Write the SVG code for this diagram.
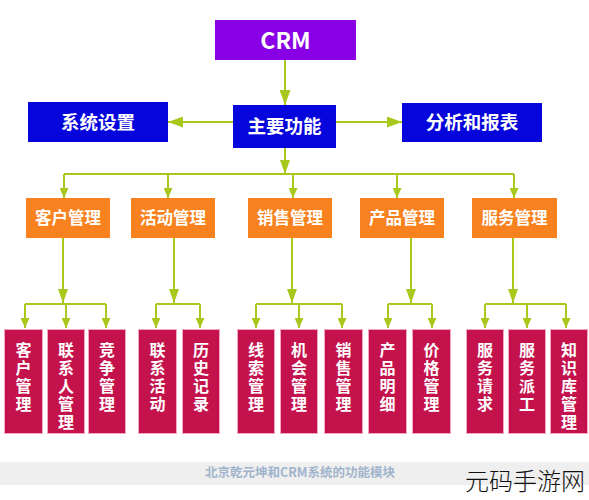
<svg xmlns="http://www.w3.org/2000/svg" width="589" height="500" viewBox="0 0 589 500">
<style>
text{font-family:"Noto Sans CJK SC","Liberation Sans",sans-serif;}
.lbl{fill:#fff;font-weight:bold;text-anchor:middle;}
.top{fill:#8a00e6;}
.blue{fill:#0505dc;}
.org{fill:#f7821f;}
.pink{fill:#c4124c;stroke:#f3a6c4;stroke-width:1;}
.ln{stroke:#a9c81c;stroke-width:2;fill:none;}
.vt{fill:#fff;font-weight:bold;font-size:16px;writing-mode:vertical-rl;letter-spacing:2px;}
</style>
<defs>
<marker id="ab" markerUnits="userSpaceOnUse" markerWidth="15" markerHeight="11" refX="15" refY="5.5" orient="auto"><path d="M0,0 L15,5.5 L0,11 z" fill="#a9c81c"/></marker>
<marker id="am" markerUnits="userSpaceOnUse" markerWidth="14" markerHeight="10" refX="14" refY="5" orient="auto"><path d="M0,0 L14,5 L0,10 z" fill="#a9c81c"/></marker>
<marker id="as" markerUnits="userSpaceOnUse" markerWidth="10" markerHeight="9" refX="10" refY="4.5" orient="auto"><path d="M0,0 L10,4.5 L0,9 z" fill="#a9c81c"/></marker>
</defs>
<rect x="0" y="462" width="589" height="23" fill="#efefef"/>
<g id="connectors">
<line class="ln" x1="285" y1="60" x2="285" y2="105" marker-end="url(#ab)"/>
<line class="ln" x1="233" y1="122" x2="168" y2="122" marker-end="url(#ab)"/>
<line class="ln" x1="336" y1="122" x2="402" y2="122" marker-end="url(#ab)"/>
<line class="ln" x1="285" y1="148" x2="285" y2="174" marker-end="url(#am)"/>
<line class="ln" x1="64" y1="174" x2="514" y2="174"/>
<line class="ln" x1="64" y1="174" x2="64" y2="198" marker-end="url(#as)"/>
<line class="ln" x1="168" y1="174" x2="168" y2="198" marker-end="url(#as)"/>
<line class="ln" x1="293" y1="174" x2="293" y2="198" marker-end="url(#as)"/>
<line class="ln" x1="397" y1="174" x2="397" y2="198" marker-end="url(#as)"/>
<line class="ln" x1="514" y1="174" x2="514" y2="198" marker-end="url(#as)"/>
<line class="ln" x1="63" y1="238" x2="63" y2="303" marker-end="url(#am)"/>
<line class="ln" x1="174" y1="238" x2="174" y2="303" marker-end="url(#am)"/>
<line class="ln" x1="292" y1="238" x2="292" y2="303" marker-end="url(#am)"/>
<line class="ln" x1="411" y1="238" x2="411" y2="303" marker-end="url(#am)"/>
<line class="ln" x1="513" y1="238" x2="513" y2="303" marker-end="url(#am)"/>
<line class="ln" x1="25" y1="304" x2="106" y2="304"/>
<line class="ln" x1="156" y1="304" x2="200" y2="304"/>
<line class="ln" x1="256" y1="304" x2="342" y2="304"/>
<line class="ln" x1="388" y1="304" x2="432" y2="304"/>
<line class="ln" x1="485" y1="304" x2="566" y2="304"/>
<line class="ln" x1="25" y1="304" x2="25" y2="328" marker-end="url(#as)"/>
<line class="ln" x1="66" y1="304" x2="66" y2="328" marker-end="url(#as)"/>
<line class="ln" x1="106" y1="304" x2="106" y2="328" marker-end="url(#as)"/>
<line class="ln" x1="156" y1="304" x2="156" y2="328" marker-end="url(#as)"/>
<line class="ln" x1="200" y1="304" x2="200" y2="328" marker-end="url(#as)"/>
<line class="ln" x1="256" y1="304" x2="256" y2="328" marker-end="url(#as)"/>
<line class="ln" x1="299" y1="304" x2="299" y2="328" marker-end="url(#as)"/>
<line class="ln" x1="342" y1="304" x2="342" y2="328" marker-end="url(#as)"/>
<line class="ln" x1="388" y1="304" x2="388" y2="328" marker-end="url(#as)"/>
<line class="ln" x1="432" y1="304" x2="432" y2="328" marker-end="url(#as)"/>
<line class="ln" x1="485" y1="304" x2="485" y2="328" marker-end="url(#as)"/>
<line class="ln" x1="527" y1="304" x2="527" y2="328" marker-end="url(#as)"/>
<line class="ln" x1="566" y1="304" x2="566" y2="328" marker-end="url(#as)"/>
</g>
<g id="crm"><rect class="top" x="215" y="20" width="141" height="40"/><text class="lbl" x="285.5" y="49" font-size="23">CRM</text></g>
<g id="main"><rect class="blue" x="233" y="105" width="103" height="43"/><text class="lbl" x="284.5" y="133" font-size="18.5">主要功能</text></g>
<g id="sys"><rect class="blue" x="28" y="102" width="140" height="40"/><text class="lbl" x="98" y="129" font-size="18.5">系统设置</text></g>
<g id="report"><rect class="blue" x="402" y="103" width="140" height="39"/><text class="lbl" x="472" y="129" font-size="18.5">分析和报表</text></g>
<g id="o1"><rect class="org" x="26" y="198" width="84" height="40"/><text class="lbl" x="68" y="224" font-size="16.5">客户管理</text></g>
<g id="o2"><rect class="org" x="131" y="198" width="84" height="40"/><text class="lbl" x="173" y="224" font-size="16.5">活动管理</text></g>
<g id="o3"><rect class="org" x="248" y="198" width="84" height="40"/><text class="lbl" x="290" y="224" font-size="16.5">销售管理</text></g>
<g id="o4"><rect class="org" x="360" y="198" width="84" height="40"/><text class="lbl" x="402" y="224" font-size="16.5">产品管理</text></g>
<g id="o5"><rect class="org" x="472" y="198" width="85" height="40"/><text class="lbl" x="514.5" y="224" font-size="16.5">服务管理</text></g>
<g id="p1"><rect class="pink" x="4.5" y="329.5" width="38" height="104"/><text class="vt" x="23.5" y="342">客户管理</text></g>
<g id="p2"><rect class="pink" x="47.5" y="329.5" width="37" height="104"/><text class="vt" x="66" y="342">联系人管理</text></g>
<g id="p3"><rect class="pink" x="88.5" y="329.5" width="37" height="104"/><text class="vt" x="107" y="342">竞争管理</text></g>
<g id="p4"><rect class="pink" x="138.5" y="329.5" width="38" height="104"/><text class="vt" x="157.5" y="342">联系活动</text></g>
<g id="p5"><rect class="pink" x="182.5" y="329.5" width="37" height="104"/><text class="vt" x="201" y="342">历史记录</text></g>
<g id="p6"><rect class="pink" x="237.5" y="329.5" width="37" height="104"/><text class="vt" x="256" y="342">线索管理</text></g>
<g id="p7"><rect class="pink" x="280.5" y="329.5" width="37" height="104"/><text class="vt" x="299" y="342">机会管理</text></g>
<g id="p8"><rect class="pink" x="324.5" y="329.5" width="38" height="104"/><text class="vt" x="343.5" y="342">销售管理</text></g>
<g id="p9"><rect class="pink" x="368.5" y="329.5" width="38" height="104"/><text class="vt" x="387.5" y="342">产品明细</text></g>
<g id="p10"><rect class="pink" x="412.5" y="329.5" width="38" height="104"/><text class="vt" x="431.5" y="342">价格管理</text></g>
<g id="p11"><rect class="pink" x="466.5" y="329.5" width="37" height="104"/><text class="vt" x="485" y="342">服务请求</text></g>
<g id="p12"><rect class="pink" x="508.5" y="329.5" width="37" height="104"/><text class="vt" x="527" y="342">服务派工</text></g>
<g id="p13"><rect class="pink" x="550.5" y="329.5" width="37" height="104"/><text class="vt" x="569" y="342">知识库管理</text></g>
<text x="300" y="477" font-size="12.5" fill="#9fb4cc" text-anchor="middle" font-weight="bold">北京乾元坤和CRM系统的功能模块</text>
<text x="465" y="490" font-size="24" fill="#111" font-weight="300">元码手游网</text>
</svg>
